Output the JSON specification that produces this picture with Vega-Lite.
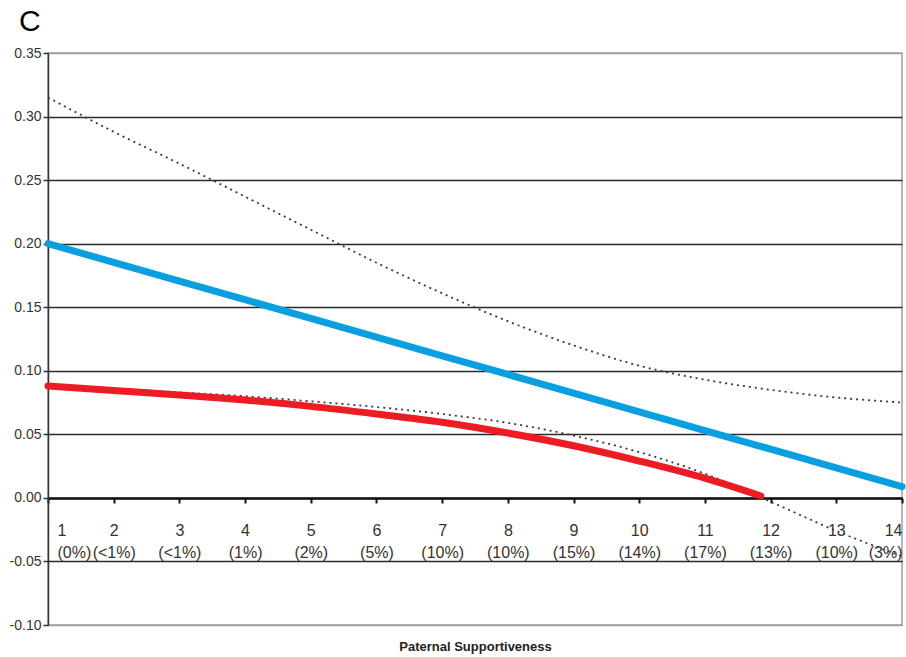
{
  "$schema": "https://vega.github.io/schema/vega-lite/v6.json",
  "width": 854,
  "height": 572,
  "autosize": {"type": "none"},
  "padding": {"left": 48, "top": 53, "right": 4, "bottom": 32},
  "background": "white",
  "config": {
    "font": "Liberation Sans",
    "view": {"stroke": "#a0a0a0", "strokeWidth": 1.5}
  },
  "title": {
    "text": "C",
    "anchor": "start",
    "frame": "group",
    "fontSize": 30,
    "fontWeight": "normal",
    "font": "Liberation Sans",
    "color": "#000000",
    "baseline": "bottom",
    "dx": -29,
    "dy": 40,
    "offset": 19
  },
  "data": {
    "values": [
      {"series": "Upper dotted", "x": 1, "y": 0.315},
      {"series": "Upper dotted", "x": 2, "y": 0.288},
      {"series": "Upper dotted", "x": 3, "y": 0.263},
      {"series": "Upper dotted", "x": 4, "y": 0.237},
      {"series": "Upper dotted", "x": 5, "y": 0.211},
      {"series": "Upper dotted", "x": 6, "y": 0.185},
      {"series": "Upper dotted", "x": 7, "y": 0.161},
      {"series": "Upper dotted", "x": 8, "y": 0.139},
      {"series": "Upper dotted", "x": 9, "y": 0.120},
      {"series": "Upper dotted", "x": 10, "y": 0.104},
      {"series": "Upper dotted", "x": 11, "y": 0.093},
      {"series": "Upper dotted", "x": 12, "y": 0.085},
      {"series": "Upper dotted", "x": 13, "y": 0.079},
      {"series": "Upper dotted", "x": 14, "y": 0.075},
      {"series": "Lower dotted", "x": 1, "y": 0.088},
      {"series": "Lower dotted", "x": 2, "y": 0.086},
      {"series": "Lower dotted", "x": 3, "y": 0.083},
      {"series": "Lower dotted", "x": 4, "y": 0.080},
      {"series": "Lower dotted", "x": 5, "y": 0.076},
      {"series": "Lower dotted", "x": 6, "y": 0.0715},
      {"series": "Lower dotted", "x": 7, "y": 0.066},
      {"series": "Lower dotted", "x": 8, "y": 0.059},
      {"series": "Lower dotted", "x": 9, "y": 0.049},
      {"series": "Lower dotted", "x": 10, "y": 0.036},
      {"series": "Lower dotted", "x": 11, "y": 0.019},
      {"series": "Lower dotted", "x": 12, "y": -0.003},
      {"series": "Lower dotted", "x": 13, "y": -0.026},
      {"series": "Lower dotted", "x": 14, "y": -0.046},
      {"series": "Red", "x": 1, "y": 0.088},
      {"series": "Red", "x": 2, "y": 0.0845},
      {"series": "Red", "x": 3, "y": 0.081},
      {"series": "Red", "x": 4, "y": 0.077},
      {"series": "Red", "x": 5, "y": 0.072},
      {"series": "Red", "x": 6, "y": 0.066},
      {"series": "Red", "x": 7, "y": 0.0595},
      {"series": "Red", "x": 8, "y": 0.051},
      {"series": "Red", "x": 9, "y": 0.041},
      {"series": "Red", "x": 10, "y": 0.029},
      {"series": "Red", "x": 11, "y": 0.0155},
      {"series": "Red", "x": 11.85, "y": 0.0015},
      {"series": "Blue", "x": 1, "y": 0.200},
      {"series": "Blue", "x": 2, "y": 0.1853},
      {"series": "Blue", "x": 3, "y": 0.1706},
      {"series": "Blue", "x": 4, "y": 0.1559},
      {"series": "Blue", "x": 5, "y": 0.1412},
      {"series": "Blue", "x": 6, "y": 0.1265},
      {"series": "Blue", "x": 7, "y": 0.1118},
      {"series": "Blue", "x": 8, "y": 0.0971},
      {"series": "Blue", "x": 9, "y": 0.0824},
      {"series": "Blue", "x": 10, "y": 0.0677},
      {"series": "Blue", "x": 11, "y": 0.0530},
      {"series": "Blue", "x": 12, "y": 0.0383},
      {"series": "Blue", "x": 13, "y": 0.0236},
      {"series": "Blue", "x": 14, "y": 0.0089}
    ]
  },
  "encoding": {
    "x": {
      "field": "x",
      "type": "quantitative",
      "scale": {"domain": [1, 14], "nice": false, "zero": false},
      "axis": {
        "title": "Paternal Supportiveness",
        "titleFont": "Liberation Sans",
        "titleFontSize": 13,
        "titleFontWeight": "bold",
        "titleColor": "#222222",
        "titleY": 152,
        "titleBaseline": "alphabetic",
        "offset": -127,
        "values": [1, 2, 3, 4, 5, 6, 7, 8, 9, 10, 11, 12, 13, 14],
        "grid": false,
        "domainColor": "#111111",
        "domainWidth": 2.5,
        "tickColor": "#111111",
        "tickWidth": 2,
        "tickSize": 5,
        "labelFont": "Liberation Sans",
        "labelFontSize": 16,
        "labelColor": "#333333",
        "labelPadding": 19,
        "labelLineHeight": 22,
        "labelFlush": true,
        "labelOffset": {"condition": {"test": "datum.value === 1", "value": 9}, "value": 0},
        "labelExpr": "[datum.label, '(' + ['0%','<1%','<1%','1%','2%','5%','10%','10%','15%','14%','17%','13%','10%','3%'][datum.value - 1] + ')']"
      }
    },
    "y": {
      "field": "y",
      "type": "quantitative",
      "scale": {"domain": [-0.1, 0.35], "nice": false, "zero": false},
      "axis": {
        "title": null,
        "values": [-0.1, -0.05, 0, 0.05, 0.1, 0.15, 0.2, 0.25, 0.3, 0.35],
        "format": ".2f",
        "labelExpr": "replace(datum.label, '\u2212', '-')",
        "grid": true,
        "gridColor": {"condition": {"test": "datum.value > 0.34 || datum.value < -0.09", "value": "#a0a0a0"}, "value": "#2a2a2a"},
        "gridWidth": 1.4,
        "domainColor": "#333333",
        "domainWidth": 1.5,
        "tickColor": "#333333",
        "tickSize": 5,
        "tickWidth": 1.5,
        "labelFont": "Liberation Sans",
        "labelFontSize": 14,
        "labelColor": "#333333",
        "labelPadding": 2
      }
    }
  },
  "layer": [
    {
      "transform": [{"filter": "datum.series === 'Upper dotted' || datum.series === 'Lower dotted'"}],
      "mark": {"type": "line", "color": "#3a3a3a", "strokeWidth": 1.8, "strokeDash": [2, 4], "interpolate": "monotone"},
      "encoding": {"detail": {"field": "series"}}
    },
    {
      "transform": [{"filter": "datum.series === 'Red'"}],
      "mark": {"type": "line", "color": "#ec1c24", "strokeWidth": 7, "strokeCap": "round", "interpolate": "monotone"},
      "encoding": {}
    },
    {
      "transform": [{"filter": "datum.series === 'Blue'"}],
      "mark": {"type": "line", "color": "#0aa0e0", "strokeWidth": 7, "strokeCap": "round"},
      "encoding": {}
    }
  ]
}
